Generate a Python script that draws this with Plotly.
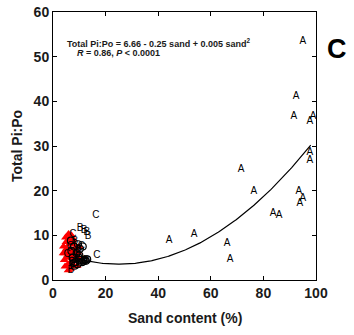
import numpy as np
import plotly.graph_objects as go

# Letter-labelled observations (site group letters)
a_x = [95, 92.4, 91.6, 98.9, 97.7, 97.7, 97.7, 93.5, 95, 93.9, 71.5, 76.4, 83.7, 86, 44.1, 53.6, 66.2, 67.3]
a_y = [53.3, 41.1, 36.6, 36.6, 35.5, 28.5, 26.7, 19.8, 18.2, 17.1, 24.7, 19.8, 15, 14.4, 8.8, 10.1, 8.1, 4.5]

b_x = [10.3, 11.8, 12.9, 13.3, 6.8, 8.3, 7.2, 9.6, 11.6, 12.6]
b_y = [11.5, 11.0, 10.6, 9.7, 2.2, 8.6, 4.0, 6.8, 4.1, 4.3]

c_x = [16.3, 16.7, 7.6, 6.6, 5.4, 9.0, 10.8]
c_y = [14.4, 5.4, 10.1, 7.5, 5.6, 6.0, 7.6]

# Red filled markers (dense low-sand cluster)
red_x = [4.0, 4.5, 5.0, 5.5, 6.0, 6.5, 7.0, 7.5, 8.0, 8.5, 4.3, 4.8, 5.7, 6.3, 6.8, 7.3, 7.8, 5.1,
         5.9, 6.6, 7.4, 8.3, 4.6, 5.5, 6.2, 7.1, 3.9, 8.9, 5.3, 6.5, 7.6, 5.8, 9.3, 9.7, 9.1, 9.9]
red_y = [7.5, 6.0, 8.5, 5.0, 9.0, 7.0, 10.0, 6.5, 8.0, 5.5, 4.5, 9.5, 3.5, 6.0, 4.0, 8.5, 3.0, 7.0,
         10.3, 2.5, 5.0, 7.0, 3.0, 5.5, 8.0, 3.5, 6.0, 4.5, 6.8, 5.2, 9.2, 2.2, 6.2, 4.8, 3.2, 7.4]

# Black open circles
circ_x = [7.0, 7.5, 8.0, 8.5, 9.0, 9.5, 10.0, 10.5, 11.0, 11.5, 12.0, 12.5, 13.0, 8.2, 9.3, 10.2, 11.3, 6.8, 7.8, 9.8]
circ_y = [6.5, 5.0, 7.5, 4.0, 6.0, 8.0, 5.5, 4.5, 4.0, 4.2, 4.5, 4.3, 4.6, 3.2, 3.5, 7.0, 7.5, 8.8, 3.8, 5.0]

# Quadratic fit: Total Pi:Po = 6.66 - 0.25 sand + 0.005 sand^2
coef = [6.66, -0.25, 0.005]
fit_x = np.linspace(7, 98, 200)
fit_y = coef[0] + coef[1] * fit_x + coef[2] * fit_x ** 2

x_ticks = [0, 20, 40, 60, 80, 100]
y_ticks = [0, 10, 20, 30, 40, 50, 60]

FONT = "Liberation Sans"
letter_font = dict(family=FONT, size=10, color="black")

fig = go.Figure()
fig.add_trace(go.Scatter(x=red_x, y=red_y, mode="markers",
                         marker=dict(symbol="triangle-up", size=8, color="#ff0000",
                                     line=dict(width=0)), hoverinfo="skip"))
fig.add_trace(go.Scatter(x=circ_x, y=circ_y, mode="markers",
                         marker=dict(symbol="circle-open", size=7, color="black",
                                     line=dict(width=1.2)), hoverinfo="skip"))
fig.add_trace(go.Scatter(x=fit_x, y=fit_y, mode="lines",
                         line=dict(color="black", width=1.2), hoverinfo="skip"))
fig.add_trace(go.Scatter(x=a_x, y=a_y, mode="text", text=["A"] * len(a_x), textfont=letter_font))
fig.add_trace(go.Scatter(x=b_x, y=b_y, mode="text", text=["B"] * len(b_x), textfont=letter_font))
fig.add_trace(go.Scatter(x=c_x, y=c_y, mode="text", text=["C"] * len(c_x), textfont=letter_font))

axis_common = dict(showline=True, linecolor="black", linewidth=1, mirror="ticks",
                   ticks="inside", ticklen=4, tickcolor="black", showgrid=False,
                   zeroline=False, automargin=False,
                   tickfont=dict(family=FONT, size=14, color="#1a1a1a", weight="bold"))

fig.update_layout(
    width=354, height=335,
    margin=dict(l=53, r=38, t=12, b=55),
    paper_bgcolor="white", plot_bgcolor="white",
    showlegend=False,
    xaxis=dict(range=[0, 100], tickvals=x_ticks, **axis_common),
    yaxis=dict(range=[0, 60], tickvals=y_ticks, **axis_common),
    annotations=[
        dict(x=0.046, y=0.884, xref="paper", yref="paper", xanchor="left", yanchor="middle",
             text="<b>Total Pi:Po = 6.66 - 0.25 sand + 0.005 sand<sup>2</sup></b>", showarrow=False,
             font=dict(family=FONT, size=9, color="#1a1a1a")),
        dict(x=0.084, y=0.847, xref="paper", yref="paper", xanchor="left", yanchor="middle",
             text="<b><i>R</i> = 0.86, <i>P</i> < 0.0001</b>", showarrow=False,
             font=dict(family=FONT, size=9, color="#1a1a1a")),
        dict(x=1.08, y=0.862, xref="paper", yref="paper", xanchor="center", yanchor="middle",
             text="<b>C</b>", showarrow=False,
             font=dict(family=FONT, size=27, color="black")),
        dict(x=0.5, y=-0.142, xref="paper", yref="paper", xanchor="center", yanchor="middle",
             text="<b>Sand content (%)</b>", showarrow=False,
             font=dict(family=FONT, size=14, color="#1a1a1a")),
        dict(x=-0.137, y=0.5, xref="paper", yref="paper", xanchor="center", yanchor="middle",
             text="<b>Total Pi:Po</b>", showarrow=False, textangle=-90,
             font=dict(family=FONT, size=14, color="#1a1a1a")),
    ],
)

fig.write_html("out.html", config={"displayModeBar": False},
               post_script="document.body.style.margin='0';")
